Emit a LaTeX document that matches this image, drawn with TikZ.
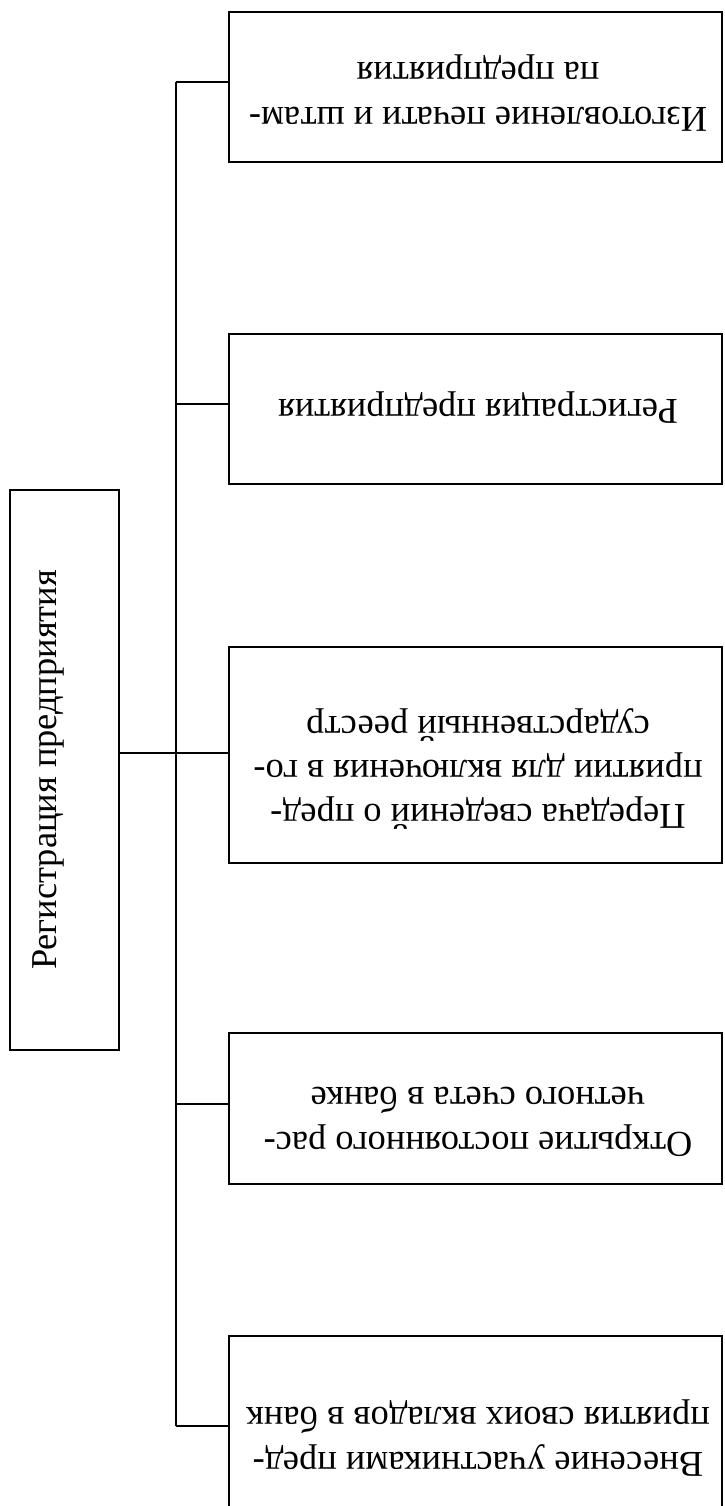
\documentclass[tikz,border=0pt]{standalone}
\usepackage{fontspec}
\setmainfont{Liberation Serif}
\begin{document}
\begin{tikzpicture}[x=0.5pt,y=-0.5pt,
  box/.style={draw,line width=1.15pt,rectangle,inner sep=0pt},
  rbox/.style={box,minimum width=246.5pt},
  txt/.style={inner sep=0pt,align=center,font=\fontsize{18.2}{22.2}\selectfont},
  link/.style={line width=1.15pt}]
\clip (0,0) rectangle (724,1506);
\fill[white] (0,0) rectangle (724,1506);
% boxes
\node[box,minimum width=54.5pt,minimum height=280pt] (main) at (64.5,770) {};
\node[rbox,minimum height=75pt] (b1) at (475.5,87) {};
\node[rbox,minimum height=75pt] (b2) at (475.5,409) {};
\node[rbox,minimum height=108pt] (b3) at (475.5,755) {};
\node[rbox,minimum height=75.5pt] (b4) at (475.5,1108.5) {};
\node[rbox,minimum height=105pt] (b5) at (475.5,1441) {};
% texts
\node[txt,rotate=90,anchor=base] (tm) at (56,770) {Регистрация предприятия};
\node[txt,rotate=180] (t1) at (478,93) {Изготовление печати и штам-\\па предприятия};
\node[txt,rotate=180] (t2) at (478,408) {Регистрация предприятия};
\node[txt,rotate=180] (t3) at (478,769) {Передача сведений о пред-\\приятии для включения в го-\\сударственный реестр};
\node[txt,rotate=180] (t4) at (478,1122) {Открытие постоянного рас-\\четного счета в банке};
\node[txt,rotate=180] (t5) at (478,1438) {Внесение участниками пред-\\приятия своих вкладов в банк};
% connectors
\coordinate (j1) at (176,82);
\coordinate (j2) at (176,404);
\coordinate (j3) at (176,753);
\coordinate (j4) at (176,1104);
\coordinate (j5) at (176,1426);
\draw[link] (j1) -- (j5);
\draw[link] (j1) -- (b1.west |- j1);
\draw[link] (j2) -- (b2.west |- j2);
\draw[link] (main.east |- j3) -- (b3.west |- j3);
\draw[link] (j4) -- (b4.west |- j4);
\draw[link] (j5) -- (b5.west |- j5);
\end{tikzpicture}
\end{document}
